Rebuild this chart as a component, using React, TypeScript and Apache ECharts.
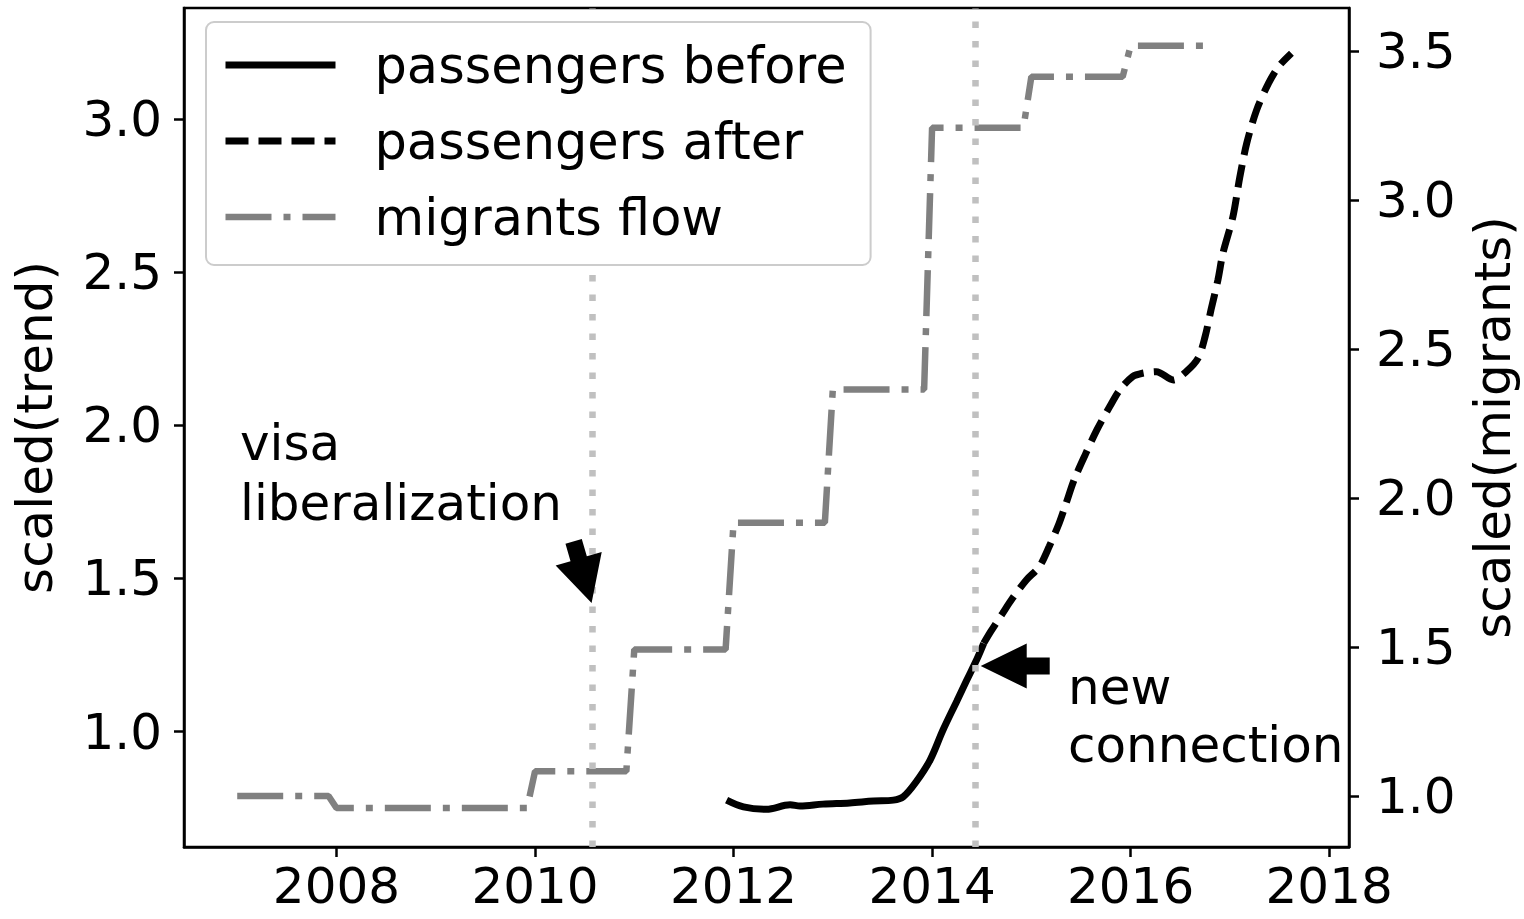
import React, { useEffect, useRef } from 'react';
import * as echarts from 'echarts';

// ---- data ----
const beforeYears = [2011.93, 2012.10, 2012.33, 2012.57, 2012.67, 2012.90, 2013.17, 2013.41, 2013.61, 2013.71, 2013.84, 2013.98, 2014.11, 2014.25, 2014.35, 2014.45, 2014.52];
const beforeValues = [0.776, 0.754, 0.746, 0.761, 0.757, 0.763, 0.767, 0.773, 0.776, 0.787, 0.836, 0.907, 1.005, 1.100, 1.168, 1.235, 1.288];

const afterYears = [2014.52, 2014.59, 2014.71, 2014.81, 2014.95, 2015.08, 2015.18, 2015.28, 2015.35, 2015.43, 2015.55, 2015.66, 2015.79, 2015.89, 2016.02, 2016.12, 2016.26, 2016.43, 2016.56, 2016.68, 2016.75, 2016.81, 2016.88, 2016.93, 2017.03, 2017.10, 2017.17, 2017.27, 2017.39, 2017.49, 2017.62];
const afterValues = [1.288, 1.326, 1.386, 1.435, 1.495, 1.538, 1.604, 1.68, 1.745, 1.821, 1.909, 1.985, 2.061, 2.115, 2.159, 2.17, 2.175, 2.148, 2.175, 2.219, 2.289, 2.377, 2.475, 2.562, 2.68, 2.81, 2.921, 3.03, 3.117, 3.171, 3.215];

const migrantYears = [2007.0, 2007.92, 2008.0, 2009.92, 2010.0, 2010.92, 2011.0, 2011.92, 2012.0, 2012.92, 2013.0, 2013.92, 2014.0, 2014.92, 2015.0, 2015.92, 2016.0, 2016.83];
const migrantValues = [1.0, 1.0, 0.96, 0.96, 1.083, 1.083, 1.492, 1.492, 1.918, 1.918, 2.365, 2.365, 3.244, 3.244, 3.415, 3.415, 3.519, 3.519];

const xTicks = [2008, 2010, 2012, 2014, 2016, 2018];
const leftTicks = [1.0, 1.5, 2.0, 2.5, 3.0];
const rightTicks = [1.0, 1.5, 2.0, 2.5, 3.0, 3.5];

const eventYears = [2010.58, 2014.43];
const seriesNames = ['passengers before', 'passengers after', 'migrants flow'];

// annotation arrow tips (data coords, left axis)
const visaTip = [2010.57, 1.42];
const connectionTip = [2014.49, 1.214];

const FONT = 'DejaVu Sans';

function zip(xs: number[], ys: number[]) {
  return xs.map((x, i) => [x, ys[i]]);
}

function arrowPoints(tip: number[], angleDeg: number, headLen: number, headW: number, bodyLen: number, bodyW: number) {
  const local = [
    [0, 0],
    [-headLen, -headW / 2],
    [-headLen, -bodyW / 2],
    [-headLen - bodyLen, -bodyW / 2],
    [-headLen - bodyLen, bodyW / 2],
    [-headLen, bodyW / 2],
    [-headLen, headW / 2],
  ];
  const a = (angleDeg * Math.PI) / 180;
  const c = Math.cos(a);
  const s = Math.sin(a);
  return local.map(([x, y]) => [tip[0] + x * c - y * s, tip[1] + x * s + y * c]);
}

export default function App() {
  const ref = useRef<HTMLDivElement>(null);

  useEffect(() => {
    const chart = echarts.init(ref.current!, null, { renderer: 'svg' });
    const axisCommon = {
      axisLine: { show: true, lineStyle: { color: '#000', width: 2.5 } },
      axisTick: { show: true, inside: false, length: 10, lineStyle: { color: '#000', width: 2.5 } },
      splitLine: { show: false },
    };
    const option: any = {
      animation: false,
      backgroundColor: '#ffffff',
      grid: {
        left: 184, right: 175, top: 8, bottom: 72,
        containLabel: false, outerBoundsMode: 'none',
        show: true, borderColor: '#000', borderWidth: 2.5, backgroundColor: 'transparent',
      },
      legend: {
        orient: 'vertical',
        left: 206,
        top: 22,
        padding: [13, 24, 18, 16],
        itemWidth: 110,
        itemHeight: 20,
        itemGap: 16,
        backgroundColor: '#ffffff',
        borderColor: '#cccccc',
        borderWidth: 2,
        borderRadius: 8,
        selectedMode: false,
        z: 10,
        lineStyle: { width: 'inherit' },
        itemStyle: { color: 'rgba(0,0,0,0)', borderWidth: 0, opacity: 0 },
        textStyle: { fontFamily: FONT, fontSize: 51, color: '#000', lineHeight: 60, padding: [0, 0, 0, 34] },
        data: seriesNames,
      },
      xAxis: {
        type: 'value',
        min: 2006.464,
        max: 2018.2,
        ...axisCommon,
        axisTick: { ...axisCommon.axisTick, customValues: xTicks },
        axisLabel: { customValues: xTicks, fontFamily: FONT, fontSize: 50, color: '#000', margin: 14, formatter: (v: number) => String(Math.round(v)) },
      },
      yAxis: [
        {
          type: 'value',
          position: 'left',
          min: 0.623,
          max: 3.3625,
          ...axisCommon,
          axisTick: { ...axisCommon.axisTick, customValues: leftTicks },
          axisLabel: { customValues: leftTicks, fontFamily: FONT, fontSize: 50, color: '#000', margin: 22, formatter: (v: number) => v.toFixed(1) },
          name: 'scaled(trend)',
          nameLocation: 'middle',
          nameRotate: 90,
          nameGap: 124,
          nameTextStyle: { fontFamily: FONT, fontSize: 50, color: '#000' },
        },
        {
          type: 'value',
          position: 'right',
          min: 0.829,
          max: 3.646,
          ...axisCommon,
          axisTick: { ...axisCommon.axisTick, customValues: rightTicks },
          axisLabel: { customValues: rightTicks, fontFamily: FONT, fontSize: 50, color: '#000', margin: 27, formatter: (v: number) => v.toFixed(1) },
          name: 'scaled(migrants)',
          nameLocation: 'middle',
          nameRotate: 90,
          nameGap: 119,
          nameTextStyle: { fontFamily: FONT, fontSize: 50, color: '#000' },
        },
      ],
      series: [
        {
          name: seriesNames[0],
          type: 'line',
          yAxisIndex: 0,
          data: zip(beforeYears, beforeValues),
          symbol: 'none',
          smooth: 0.35,
          color: '#000',
          lineStyle: { color: '#000', width: 7 },
          z: 3,
          markLine: {
            silent: true,
            symbol: ['none', 'none'],
            label: { show: false },
            emphasis: { disabled: true },
            lineStyle: { color: '#c0c0c0', width: 6.5, type: [6.5, 13] },
            data: eventYears.map((y) => ({ xAxis: y })),
          },
        },
        {
          name: seriesNames[1],
          type: 'line',
          yAxisIndex: 0,
          data: zip(afterYears, afterValues),
          symbol: 'none',
          smooth: 0.3,
          color: '#000',
          lineStyle: { color: '#000', width: 7, type: [23, 10] },
          z: 3,
        },
        {
          name: seriesNames[2],
          type: 'line',
          yAxisIndex: 1,
          data: zip(migrantYears, migrantValues),
          symbol: 'none',
          color: '#808080',
          lineStyle: { color: '#808080', width: 6.5, type: [46, 12, 7, 12] },
          z: 2,
        },
      ],
    };
    chart.setOption(option);

    const toPx = (p: number[]) => chart.convertToPixel({ seriesIndex: 0 }, p) as number[];
    const vt = toPx(visaTip);
    const ct = toPx(connectionTip);
    const textStyle = (text: string) => ({
      text,
      fontFamily: FONT,
      fontSize: 50,
      fill: '#000',
      align: 'left',
      verticalAlign: 'middle',
      textAlign: 'left',
      textVerticalAlign: 'middle',
    });
    chart.setOption({
      graphic: [
        { type: 'text', x: 240, y: 443, z: 20, silent: true, style: textStyle('visa') },
        { type: 'text', x: 240, y: 503, z: 20, silent: true, style: textStyle('liberalization') },
        { type: 'text', x: 1068, y: 687, z: 20, silent: true, style: textStyle('new') },
        { type: 'text', x: 1068, y: 745, z: 20, silent: true, style: textStyle('connection') },
        { type: 'polygon', z: 20, silent: true, shape: { points: arrowPoints(vt, 73.7, 46, 48, 18, 17) }, style: { fill: '#000' } },
        { type: 'polygon', z: 20, silent: true, shape: { points: arrowPoints(ct, 180, 46, 45, 23, 17) }, style: { fill: '#000' } },
      ],
    });

    return () => chart.dispose();
  }, []);

  return <div ref={ref} style={{ position: 'fixed', left: 0, top: 0, width: 1524, height: 919, background: '#fff' }} />;
}
